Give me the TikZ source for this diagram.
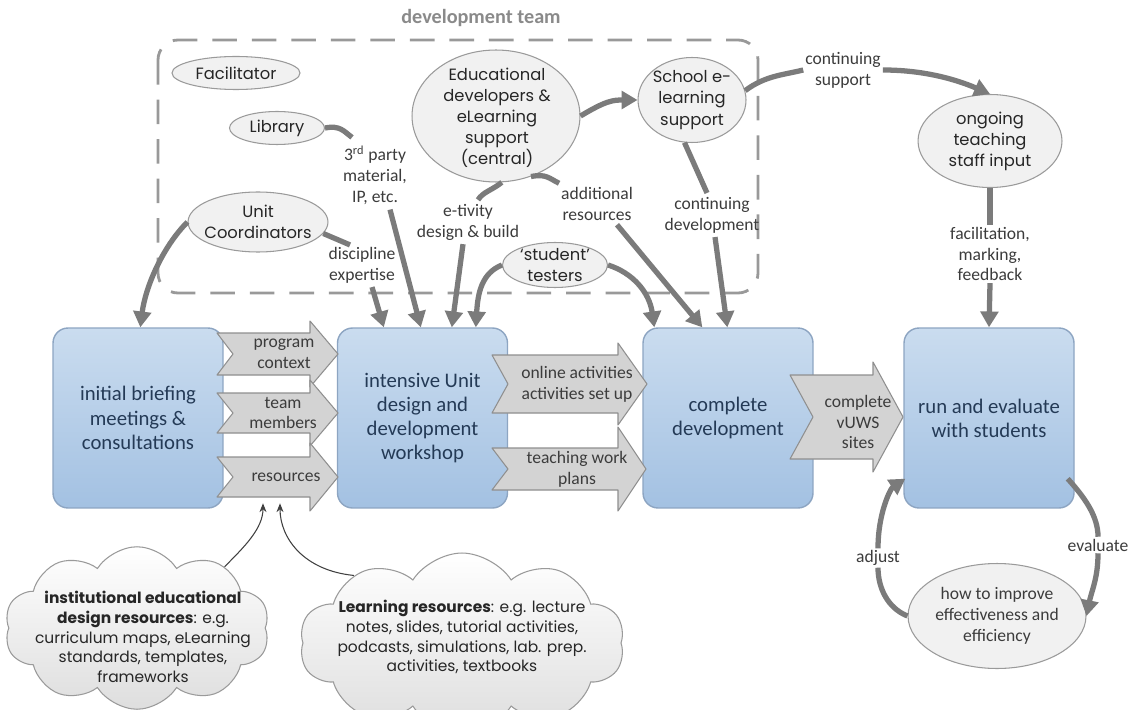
\documentclass[tikz,border=0pt]{standalone}
\usepackage{fontspec}
\setmainfont{Carlito}
\newfontfamily\comicf{Poppins}
\usetikzlibrary{shapes.geometric,shapes.symbols,arrows.meta,calc}
\definecolor{boxtop}{HTML}{CADCEF}
\definecolor{boxbot}{HTML}{A3C1E2}
\definecolor{boxline}{HTML}{8DA5C2}
\definecolor{boxtext}{HTML}{243A56}
\definecolor{conngray}{HTML}{7B7B7B}
\definecolor{blk}{HTML}{D3D3D3}
\definecolor{blkline}{HTML}{8F8F8F}
\definecolor{lblgray}{HTML}{3C3C3C}
\definecolor{ellfill}{HTML}{F1F1F1}
\definecolor{ellline}{HTML}{9A9A9A}
\definecolor{titlegray}{HTML}{8A8A8A}
\newcommand\blkarr[7]{\draw[blkarrow] (#1,{#5-#6}) -- (#3,{#5-#6}) -- (#3,{#5-#7}) -- (#4,#5) -- (#3,{#5+#7}) -- (#3,{#5+#6}) -- (#1,{#5+#6}) -- (#2,#5) -- cycle;}
\begin{document}
\begin{tikzpicture}[x=0.02cm,y=-0.02cm,
 mainbox/.style={draw=boxline, line width=0.8pt, rounded corners=0.3cm, top color=boxtop, bottom color=boxbot, minimum width=3.4cm, minimum height=3.6cm, align=center, text=boxtext, font=\fontsize{11.8}{13.8}\selectfont},
 ell/.style={ellipse, draw=ellline, line width=0.6pt, fill=ellfill, inner sep=0pt},
 elltext/.style={align=center, inner sep=0pt, text=black!85, font=\comicf\fontsize{9.3}{12}\selectfont},
 lbl/.style={align=center, text=lblgray, font=\fontsize{10}{11.9}\selectfont, inner sep=1pt},
 blkarrow/.style={draw=blkline, fill=blk, line width=0.6pt, line join=round},
 blktext/.style={align=center, text=lblgray, font=\fontsize{10}{11.9}\selectfont, inner sep=0pt},
 fatline/.style={draw=conngray, line width=3pt},
 fatarrow/.style={fatline, -{Triangle[length=9pt,width=10pt]}},
 thinarrow/.style={draw=black!75, line width=0.6pt, -{Stealth[length=5pt,width=4pt]}},
 cloudbox/.style={cloud, cloud puffs=10, cloud puff arc=115, cloud ignores aspect, draw=ellline, line width=0.6pt, top color=white, bottom color=black!13, inner sep=0pt},
 cloudtext/.style={align=center, inner sep=0pt, text=black!85, font=\comicf\fontsize{8.8}{11.3}\selectfont}
]
\clip (0,0) rectangle (1131,709);
\fill[white] (0,0) rectangle (1131,709);

% title and team frame
\node[font=\bfseries\fontsize{11.5}{13}\selectfont, text=titlegray] (title) at (481,18) {development team};
\draw[draw=black!40, line width=1.6pt, dash pattern=on 14pt off 8.5pt, rounded corners=0.4cm] (158,40) rectangle (758,293);

% main boxes
\node[mainbox] (b1) at (138,418) {initial briefing\\meetings \&\\consultations};
\node[mainbox] (b2) at (422.5,418) {intensive Unit\\design and\\development\\workshop};
\node[mainbox] (b3) at (728,418) {complete\\development};
\node[mainbox] (b4) at (989,418) {run and evaluate\\with students};

% block arrows
\blkarr{217}{233}{310}{338}{354}{21}{33}
\blkarr{217}{233}{310}{338}{413}{20}{33}
\blkarr{217}{233}{310}{338}{477}{20}{34}
\blkarr{492}{508}{618}{647}{384}{29}{41}
\blkarr{492}{508}{618}{646}{469}{21}{42}
\blkarr{790}{813}{873}{903}{417}{42}{55}
\node[blktext, minimum height=0.84cm] (ar1) at (284,354) {program\\context};
\node[blktext, minimum height=0.8cm] (ar2) at (283,413) {team\\members};
\node[blktext, minimum height=0.8cm] (ar3) at (286,477) {resources};
\node[blktext] (ar4) at (577,384) {online activities\\activities set up};
\node[blktext] (ar5) at (577,469) {teaching work\\plans};
\node[blktext] (ar6) at (858,422) {complete\\vUWS\\sites};

% ellipses
\node[ell, minimum width=2.56cm, minimum height=0.66cm] (fac) at (236,73) {};
\node[elltext] (facT) at (fac) {Facilitator};
\node[ell, minimum width=1.9cm, minimum height=0.66cm] (lib) at (277,128) {};
\node[elltext] (libT) at (lib) {Library};
\node[ell, minimum width=2.8cm, minimum height=1.2cm] (uc) at (258,222) {};
\node[elltext] (ucT) at (uc) {Unit\\Coordinators};
\node[ell, minimum width=3.36cm, minimum height=2.64cm] (edu) at (496,116) {};
\node[elltext] (eduT) at (497,118) {Educational\\developers \&\\eLearning\\support\\(central)};
\node[ell, minimum width=2.16cm, minimum height=1.7cm] (sch) at (692,100) {};
\node[elltext] (schT) at (sch) {School e-\\learning\\support};
\node[ell, minimum width=2.88cm, minimum height=1.86cm] (ongo) at (990,141) {};
\node[elltext] (ongoT) at (ongo) {ongoing\\teaching\\staff input};
\node[ell, minimum width=2.1cm, minimum height=0.9cm] (stud) at (555,265) {};
\node[elltext] (studT) at (stud) {‘student’\\testers};
\node[ell, minimum width=3.56cm, minimum height=2.1cm] (imp) at (997,616) {};
\node[lbl] (impT) at (imp) {how to improve\\effectiveness and\\efficiency};

% labels
\node[lbl] (disc) at (362,265) {discipline\\expertise};
\node[lbl] (party) at (375,175) {3\textsuperscript{rd} party\\material,\\IP, etc.};
\node[lbl] (etiv) at (468,222) {e-tivity\\design \& build};
\node[lbl] (addl) at (597,204) {additional\\resources};
\node[lbl] (cdev) at (712,215) {continuing\\development};
\node[lbl] (csup) at (843,70) {continuing\\support};
\node[lbl] (facl) at (990,254) {facilitation,\\marking,\\feedback};
\node[lbl] (eval) at (1098,545) {evaluate};
\node[lbl] (adj) at (878,558) {adjust};

% clouds
\node[cloudbox, minimum width=5.3cm, minimum height=3.25cm] (cl1) at (137,628) {};
\node[cloudtext] (cl1T) at (143,637) {\textbf{institutional educational}\\\textbf{design resources}: e.g.\\curriculum maps, eLearning\\standards, templates,\\frameworks};
\node[cloudbox, minimum width=6.5cm, minimum height=3.6cm] (cl2) at (462,643) {};
\node[cloudtext] (cl2T) at (462,637) {\textbf{Learning resources}: e.g. lecture\\notes, slides, tutorial activities,\\podcasts, simulations, lab. prep.\\activities, textbooks};

% connectors
\draw[fatarrow] (uc.west) .. controls +(-25,25) and +(5,-40) .. ($(b1.north west)+(88,0)$);
\draw[fatline] (uc.-10) -- ($(disc.north)+(-12,0)$);
\draw[fatarrow] ($(disc.south)+(10,2)$) -- ($(b2.north west)+(47,0)$);
\draw[fatline] (lib.east) .. controls +(15,-3) and +(-8,-6) .. ($(party.north)+(-23,-6)$);
\draw[fatarrow] ($(party.south)+(15,3)$) -- ($(b2.north west)+(84,0)$);
\draw[fatline] (edu.-85) .. controls +(-10,8) and +(5,-8) .. ($(etiv.north)+(10,-2)$);
\draw[fatarrow] ($(etiv.south)+(-5,2)$) -- ($(b2.north west)+(115,0)$);
\draw[fatline] (edu.-60) .. controls +(15,-3) and +(-10,-5) .. ($(addl.north west)+(0,-2)$);
\draw[fatarrow] ($(addl.south)+(20,2)$) -- ($(b3.north west)+(60,0)$);
\draw[fatarrow] (edu.east) .. controls +(25,-15) and +(-25,0) .. (sch.west);
\draw[fatline] (sch.-100) -- ($(cdev.north)+(-5,-2)$);
\draw[fatarrow] ($(cdev.south)+(3,2)$) -- ($(b3.north west)+(85,0)$);
\draw[fatline] (sch.10) .. controls +(20,-15) and +(-20,5) .. (csup.west);
\draw[fatarrow] (csup.east) .. controls +(40,0) and +(-35,-15) .. (ongo.north);
\draw[fatline] (ongo.south) -- (facl.north);
\draw[fatarrow] (facl.south) -- (b4.north);
\draw[fatarrow] (stud.west) .. controls +(-20,8) and +(2,-35) .. ($(b2.north west)+(139,0)$);
\draw[fatarrow] (stud.east) .. controls +(25,8) and +(-5,-35) .. ($(b3.north west)+(12,0)$);
\draw[fatline] ($(b4.south east)+(-7,-30)$) .. controls +(18,20) and +(0,-20) .. (eval.north);
\draw[fatarrow] (eval.south) .. controls +(0,25) and +(5,-25) .. (imp.east);
\draw[fatline] (imp.west) .. controls +(-20,-8) and +(0,20) .. (adj.south);
\draw[fatarrow] (adj.north) .. controls +(0,-35) and +(-15,10) .. ($(b4.south west)+(2,-30)$);
\draw[thinarrow] (cl1.35) .. controls +(20,-20) and +(0,25) .. ($(ar3.south)+(-23,6)$);
\draw[thinarrow] (cl2.148) .. controls +(-50,-5) and +(0,35) .. ($(ar3.south)+(-6,6)$);
\end{tikzpicture}
\end{document}
